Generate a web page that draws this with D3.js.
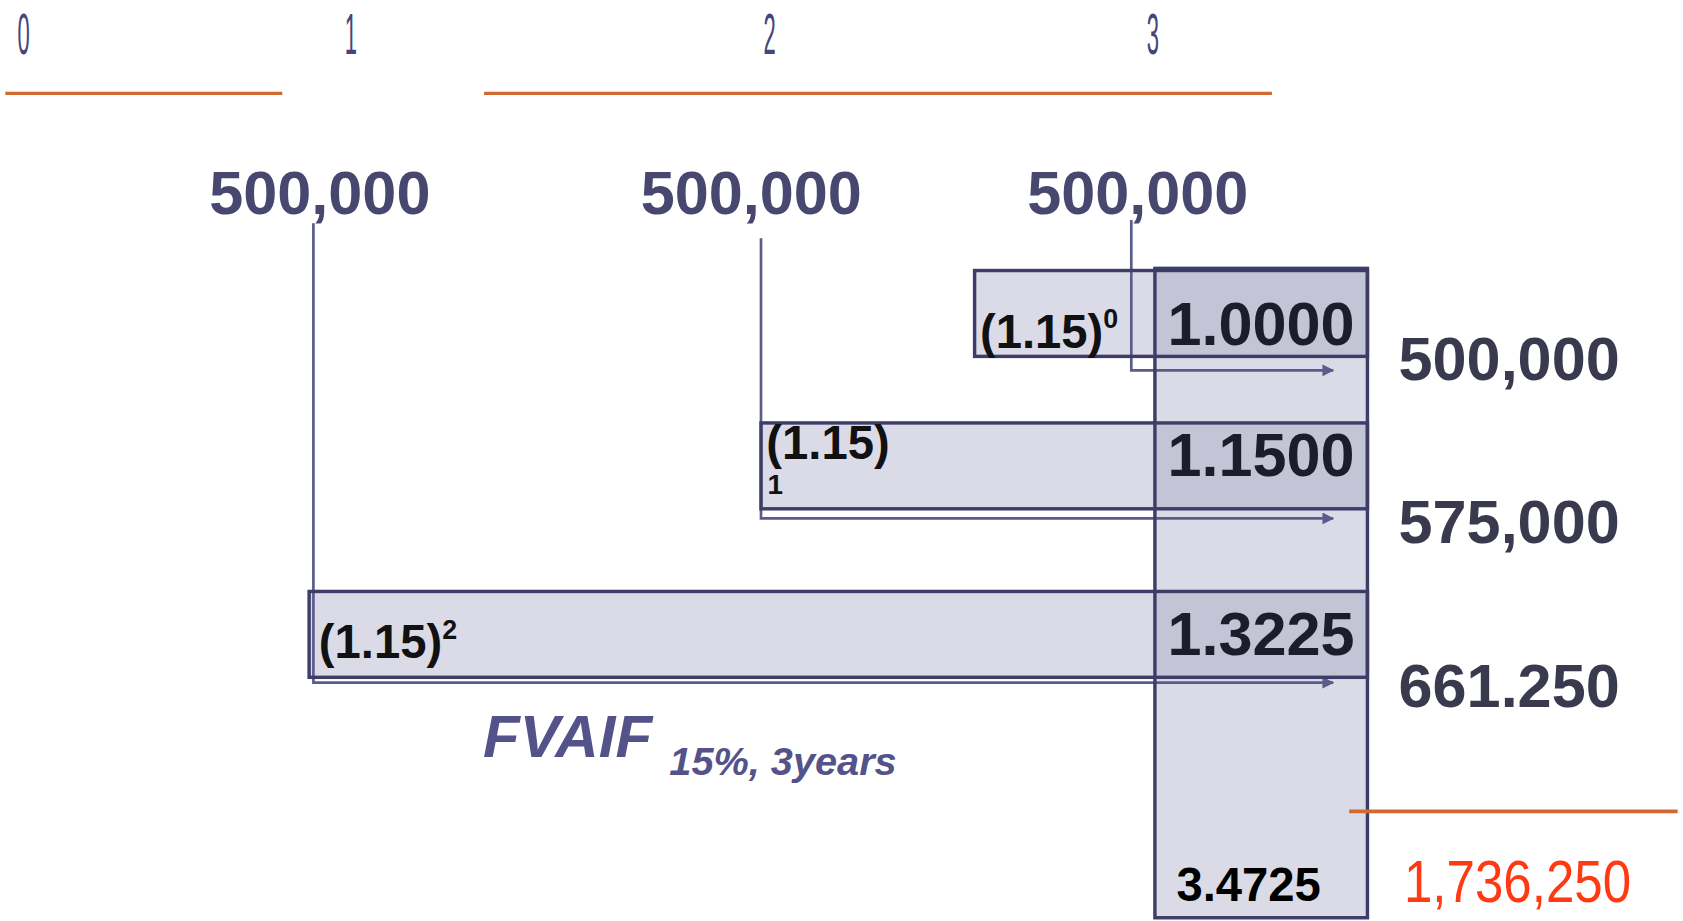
<!DOCTYPE html>
<html>
<head>
<meta charset="utf-8">
<script src="https://cdn.jsdelivr.net/npm/d3@7"></script>
<style>
	html, body { margin: 0; padding: 0; background: #fff; overflow: hidden; }
	text { font-family: "Liberation Sans", Arial, sans-serif; }
</style>
</head>
<body>
<div id="chart"></div>
<script>
//------------------------------------------------------------------------------
// future value of an annuity: 500,000 per year, 15%, 3 years
//------------------------------------------------------------------------------
var W = 1568, H = 858;

var svg = d3.select('#chart').append('svg')
	.attr('width', 1683)
	.attr('height', 921)
	.attr('viewBox', '0 0 ' + W + ' ' + H);

var periods = [0, 1, 2, 3];

var flows = [
	{period: 1, amt: '500,000', exp: 2, factor: '1.3225', fv: '661.250', boxLeft: 288, lineTop: 208},
	{period: 2, amt: '500,000', exp: 1, factor: '1.1500', fv: '575,000', boxLeft: 709, lineTop: 222},
	{period: 3, amt: '500,000', exp: 0, factor: '1.0000', fv: '500,000', boxLeft: 908, lineTop: 205}
];
var total = {factor: '3.4725', fv: '1,736,250'};

// positions (hand-placed timeline, not linear)
var tickX = d3.scaleOrdinal().domain(periods).range([22, 327, 717, 1074]);
var labelX = d3.scaleOrdinal().domain([1, 2, 3]).range([298, 700, 1060]);
var lineX = d3.scaleOrdinal().domain([1, 2, 3]).range([292, 709, 1054]);
var rowTop = d3.scaleOrdinal().domain([0, 1, 2]).range([252, 394, 551]);
var rowH = 80;
var arrowY = d3.scaleOrdinal().domain([0, 1, 2]).range([345, 483, 636]);
var factorY = d3.scaleOrdinal().domain([0, 1, 2]).range([321, 443, 610]);
var fvY = d3.scaleOrdinal().domain([0, 1, 2]).range([354, 506, 659]);
var col = {x0: 1076, x1: 1274, y0: 250, y1: 855};
var arrowEnd = 1242;

const orange = '#d2692f', border = '#3d3d68', arrowC = '#5c5c8c';

svg.append('defs').append('marker')
	.attr('id', 'arr')
	.attr('viewBox', '0 0 10 10')
	.attr('refX', 9).attr('refY', 5)
	.attr('markerWidth', 13).attr('markerHeight', 11)
	.attr('markerUnits', 'userSpaceOnUse')
	.attr('orient', 'auto')
	.append('path')
		.attr('d', 'M0,0L10,5L0,10Z')
		.attr('fill', arrowC);

// timeline
svg.selectAll('.tick-lbl')
	.data(periods)
	.enter()
	.append('text')
	.attr('class', 'tick-lbl')
	.attr('transform', function(d) { return 'translate(' + tickX(d) + ',50) scale(0.38,1)'; })
	.attr('text-anchor', 'middle')
	.attr('fill', '#45457a')
	.style('font-size', '54px')
	.text(function(d) { return d; });

svg.selectAll('.tl')
	.data([[5, 263], [451, 1185]])
	.enter()
	.append('line')
	.attr('x1', function(d) { return d[0]; })
	.attr('x2', function(d) { return d[1]; })
	.attr('y1', 87).attr('y2', 87)
	.attr('stroke', orange)
	.attr('stroke-width', 3);

// cash flow amounts
svg.selectAll('.amt')
	.data(flows)
	.enter()
	.append('text')
	.attr('x', function(d) { return labelX(d.period); })
	.attr('y', 199)
	.attr('text-anchor', 'middle')
	.attr('fill', '#47476f')
	.style('font-size', '57px')
	.style('font-weight', 'bold')
	.text(function(d) { return d.amt; });

// boxes: fills first (translucent so overlaps darken), then outlines
var fills = svg.append('g').attr('fill', '#9a9abd').attr('fill-opacity', 0.36);
fills.selectAll('rect')
	.data(flows)
	.enter()
	.append('rect')
	.attr('x', function(d) { return d.boxLeft; })
	.attr('y', function(d) { return rowTop(d.exp); })
	.attr('width', function(d) { return col.x1 - d.boxLeft; })
	.attr('height', rowH);
fills.append('rect')
	.attr('x', col.x0).attr('y', col.y0)
	.attr('width', col.x1 - col.x0).attr('height', col.y1 - col.y0);

// connectors
var conn = svg.append('g')
	.attr('fill', 'none')
	.attr('stroke', arrowC)
	.attr('stroke-width', 2.5);
conn.selectAll('path')
	.data(flows)
	.enter()
	.append('path')
	.attr('d', function(d) {
		var x = lineX(d.period), y = arrowY(d.exp);
		return 'M' + x + ',' + d.lineTop + 'L' + x + ',' + y + 'L' + arrowEnd + ',' + y;
	})
	.attr('marker-end', 'url(#arr)');

var outl = svg.append('g')
	.attr('fill', 'none')
	.attr('stroke', border)
	.attr('stroke-width', 3.2);
outl.selectAll('rect')
	.data(flows)
	.enter()
	.append('rect')
	.attr('x', function(d) { return d.boxLeft; })
	.attr('y', function(d) { return rowTop(d.exp); })
	.attr('width', function(d) { return col.x1 - d.boxLeft; })
	.attr('height', rowH);
outl.append('rect')
	.attr('x', col.x0).attr('y', col.y0)
	.attr('width', col.x1 - col.x0).attr('height', col.y1 - col.y0);

// (1.15)^n labels
var pw = svg.append('g')
	.attr('fill', '#111')
	.style('font-weight', 'bold');
flows.forEach(function(d) {
	var t = pw.append('text')
		.attr('x', d.boxLeft + (d.exp == 2 ? 9 : 5))
		.attr('y', d.exp == 1 ? 428 : factorY(d.exp) + 3)
		.style('font-size', '44px')
		.text('(1.15)');
	if (d.exp == 1) {
		pw.append('text')
			.attr('x', d.boxLeft + 6)
			.attr('y', 460)
			.style('font-size', '26px')
			.text(d.exp);
	} else {
		t.append('tspan')
			.attr('dy', -18)
			.style('font-size', '25px')
			.text(d.exp);
	}
});

// factors in the column
svg.selectAll('.factor')
	.data(flows)
	.enter()
	.append('text')
	.attr('x', 1262)
	.attr('y', function(d) { return factorY(d.exp); })
	.attr('text-anchor', 'end')
	.attr('fill', '#1c1c2c')
	.style('font-size', '57px')
	.style('font-weight', 'bold')
	.text(function(d) { return d.factor; });

// future values on the right
svg.selectAll('.fv')
	.data(flows)
	.enter()
	.append('text')
	.attr('x', 1303)
	.attr('y', function(d) { return fvY(d.exp); })
	.attr('fill', '#3a3a4e')
	.style('font-size', '57px')
	.style('font-weight', 'bold')
	.text(function(d) { return d.fv; });

// FVAIF caption
var cap = svg.append('text')
	.attr('x', 450).attr('y', 705)
	.attr('fill', '#53538a')
	.style('font-weight', 'bold')
	.style('font-style', 'italic');
cap.append('tspan').style('font-size', '56px').text('FVAIF');
cap.append('tspan').attr('dx', 16).attr('dy', 17).style('font-size', '37px').text('15%, 3years');

// total
svg.append('line')
	.attr('x1', 1257).attr('x2', 1563)
	.attr('y1', 756).attr('y2', 756)
	.attr('stroke', orange)
	.attr('stroke-width', 3.5);

svg.append('text')
	.attr('x', 1096).attr('y', 839)
	.attr('fill', '#000')
	.style('font-size', '44px')
	.style('font-weight', 'bold')
	.text(total.factor);

svg.append('text')
	.attr('transform', 'translate(1308,840) scale(0.85,1)')
	.attr('fill', '#ff3a12')
	.style('font-size', '56px')
	.text(total.fv);
</script>
</body>
</html>
